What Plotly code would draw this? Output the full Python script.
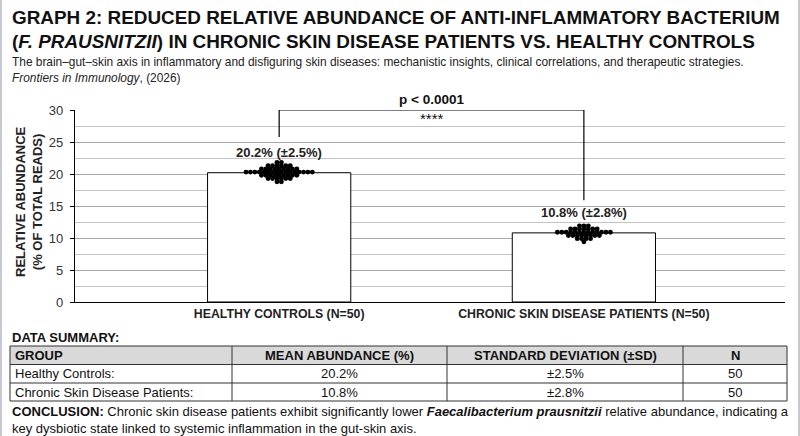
import numpy as np
import plotly.graph_objects as go

# data
groups = ["HEALTHY CONTROLS (N=50)", "CHRONIC SKIN DISEASE PATIENTS (N=50)"]
means = [20.2, 10.8]
sds = [2.5, 2.8]
n_counts = [50, 50]

healthy_values = (
    [21.8, 21.8]
    + [21.3, 21.3, 21.3, 21.3, 21.3, 21.3]
    + [20.8, 20.8, 20.8, 20.8, 20.8, 20.8, 20.8, 20.8, 20.8]
    + [20.3, 20.3, 20.3, 20.3, 20.3, 20.3, 20.3, 20.3,
       20.3, 20.3, 20.3, 20.3, 20.3, 20.3, 20.3, 20.3]
    + [19.8, 19.8, 19.8, 19.8, 19.8, 19.8, 19.8, 19.8, 19.8]
    + [19.3, 19.3, 19.3, 19.3, 19.3, 19.3]
    + [18.8, 18.8]
)
patient_values = (
    [11.9, 11.9, 11.9]
    + [11.4, 11.4, 11.4, 11.4, 11.4, 11.4, 11.4]
    + [10.9, 10.9, 10.9, 10.9, 10.9, 10.9, 10.9, 10.9, 10.9, 10.9, 10.9, 10.9, 10.9]
    + [10.4, 10.4, 10.4, 10.4, 10.4, 10.4, 10.4, 10.4]
    + [9.9, 9.9, 9.9, 9.9]
    + [9.4]
)
p_text = "p < 0.0001"
stars = "****"

table_header = ["GROUP", "MEAN ABUNDANCE (%)", "STANDARD DEVIATION (±SD)", "N"]
table_groups = ["Healthy Controls:", "Chronic Skin Disease Patients:"]

FONT = "Liberation Sans, Arial, sans-serif"
W, H = 800, 436
DOT_STEP = 0.0145


def swarm_offsets(values, step):
    # dots with the same value sit in one row, centred on the bar
    vals = np.array(values)
    offs = np.zeros(len(vals))
    for v in np.unique(vals):
        idx = np.where(vals == v)[0]
        offs[idx] = (np.arange(len(idx)) - (len(idx) - 1) / 2) * step
    return offs


def px(x):
    return x / W


def py(y):
    return 1 - y / H


def note(x, y, text, size, color="#111", xanchor="left", **kw):
    fig.add_annotation(x=px(x), y=py(y), xref="paper", yref="paper",
                       xanchor=xanchor, yanchor="middle", text=text, showarrow=False,
                       font=dict(size=size, color=color), **kw)


fig = go.Figure()

fig.add_trace(go.Bar(
    x=[0, 1], y=means, width=0.47,
    marker=dict(color="white", line=dict(color="black", width=1)),
    hoverinfo="skip", showlegend=False,
))

for i, vals in enumerate([healthy_values, patient_values]):
    fig.add_trace(go.Scatter(
        x=i + swarm_offsets(vals, DOT_STEP), y=vals, mode="markers",
        marker=dict(color="black", size=4.9),
        showlegend=False, hoverinfo="y",
    ))

# bar labels
for i, (m, s) in enumerate(zip(means, sds)):
    fig.add_annotation(x=i, y=m, yshift=20, yanchor="middle", text=f"<b>{m}% (±{s}%)</b>",
                       showarrow=False, font=dict(size=13, color="#222"))

# significance bracket
fig.add_shape(type="path", path="M 0,25.8 L 0,30 L 1,30 L 1,15.9",
              line=dict(color="black", width=1.2), layer="above")
fig.add_annotation(x=0.5, y=30, yshift=10, yanchor="middle", text=f"<b>{p_text}</b>",
                   showarrow=False, font=dict(size=13.5, color="#111"))
fig.add_annotation(x=0.5, y=28.6, yanchor="middle", text=stars, showarrow=False,
                   font=dict(size=15, color="#111"))

# titles
note(10, 18, "<b>GRAPH 2: REDUCED RELATIVE ABUNDANCE OF ANTI-INFLAMMATORY BACTERIUM</b>", 18.9)
note(10, 41, "<b>(<i>F. PRAUSNITZII</i>) IN CHRONIC SKIN DISEASE PATIENTS VS. HEALTHY CONTROLS</b>", 18.9)
note(10, 62, "The brain–gut–skin axis in inflammatory and disfiguring skin diseases: "
             "mechanistic insights, clinical correlations, and therapeutic strategies.", 11.9, "#222")
note(10, 78, "<i>Frontiers in Immunology</i>, (2026)", 11.9, "#222")

# y axis title
note(29, 202, "<b>RELATIVE ABUNDANCE<br>(% OF TOTAL READS)</b>", 13, "#222",
     xanchor="center", textangle=-90)

# data summary table
note(10, 337, "<b>DATA SUMMARY:</b>", 13)
col_edges = [10, 232, 447, 683, 787]
row_edges = [346, 364.5, 383, 401]
body_rows = [[g, f"{m}%", f"±{s}%", str(n)]
             for g, m, s, n in zip(table_groups, means, sds, n_counts)]
fig.add_shape(type="rect", xref="paper", yref="paper",
              x0=px(col_edges[0]), x1=px(col_edges[-1]),
              y0=py(row_edges[0]), y1=py(row_edges[1]),
              fillcolor="#d9d9d9", line=dict(width=0), layer="below")
for xe in col_edges:
    fig.add_shape(type="line", xref="paper", yref="paper", x0=px(xe), x1=px(xe),
                  y0=py(row_edges[0]), y1=py(row_edges[-1]),
                  line=dict(color="#333", width=1))
for ye in row_edges:
    fig.add_shape(type="line", xref="paper", yref="paper",
                  x0=px(col_edges[0]), x1=px(col_edges[-1]), y0=py(ye), y1=py(ye),
                  line=dict(color="#333", width=1))
for r, row in enumerate([[f"<b>{h}</b>" for h in table_header]] + body_rows):
    yc = (row_edges[r] + row_edges[r + 1]) / 2
    for c, txt in enumerate(row):
        if c == 0:
            note(col_edges[0] + 3, yc, txt, 13, "#111")
        else:
            note((col_edges[c] + col_edges[c + 1]) / 2, yc, txt, 13, "#111", xanchor="center")

note(10, 420, "<b>CONCLUSION:</b> Chronic skin disease patients exhibit significantly lower "
              "<b><i>Faecalibacterium prausnitzii</i></b> relative abundance, indicating a"
              "<br>key dysbiotic state linked to systemic inflammation in the gut-skin axis.",
     13, "#111", align="left")

# faint frame at the page edges
for xe in [0, 1]:
    fig.add_shape(type="line", xref="paper", yref="paper", x0=xe, x1=xe, y0=0, y1=1,
                  line=dict(color="#c8c8d4", width=4))

fig.update_layout(
    width=W, height=H,
    margin=dict(l=0, r=0, t=0, b=0),
    paper_bgcolor="white", plot_bgcolor="white",
    font=dict(family=FONT, color="#222"),
    xaxis=dict(
        domain=[px(75), px(785)], range=[-0.67, 1.66], automargin=False,
        tickmode="array", tickvals=[0, 1], ticktext=[f"<b>{g}</b>" for g in groups],
        tickfont=dict(size=12.3, color="#222"), showgrid=False, zeroline=False,
        showline=True, linecolor="black", linewidth=1.2, ticks="",
    ),
    yaxis=dict(
        domain=[py(302), py(110)], range=[0, 30], dtick=5, automargin=False,
        tickfont=dict(size=13, color="#333"), ticklabelstandoff=4,
        showgrid=True, gridcolor="#a9a9a9", gridwidth=1,
        minor=dict(dtick=2.5, showgrid=True, gridcolor="#c4c4c4", gridwidth=1),
        showline=True, linecolor="black", linewidth=1.2,
        ticks="outside", ticklen=4, tickcolor="black", zeroline=False,
    ),
)

fig.write_html("out.html", config={"displayModeBar": False},
               post_script="document.body.style.margin='0px';")
